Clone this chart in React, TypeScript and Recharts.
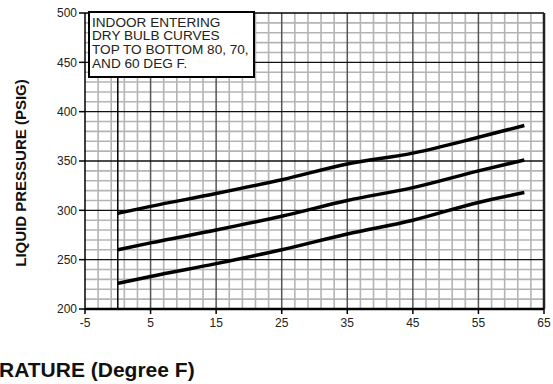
import React from 'react';
import { LineChart, Line, XAxis, YAxis, ReferenceLine } from 'recharts';

const temps = [0, 5, 15, 25, 35, 45, 55, 62];
const db80 = [297, 304, 317, 331, 347, 358, 374, 386];
const db70 = [260, 267, 280, 294, 310, 323, 340, 351];
const db60 = [226, 233, 246, 260, 276, 290, 308, 318];

const xTicks = [-5, 5, 15, 25, 35, 45, 55, 65];
const yTicks = [200, 250, 300, 350, 400, 450, 500];

const xMinor = [-3, -1, 1, 3, 7, 9, 11, 13, 17, 19, 21, 23, 27, 29, 31, 33, 37, 39, 41, 43, 47, 49, 51, 53, 57, 59, 61, 63];
const xMajor = [5, 15, 25, 35, 45, 55];
const xZero = [0];
const yMinor = [210, 220, 230, 240, 260, 270, 280, 290, 310, 320, 330, 340, 360, 370, 380, 390, 410, 420, 430, 440, 460, 470, 480, 490];
const yMajor = [250, 300, 350, 400, 450];

const legendLines = ['INDOOR ENTERING', 'DRY BULB CURVES', 'TOP TO BOTTOM 80, 70,', 'AND 60 DEG F.'];

const data = temps.map((t, i) => ({ t, a: db80[i], b: db70[i], c: db60[i] }));

const FONT = '"Liberation Sans", Arial, sans-serif';

export default function App() {
  return (
    <div style={{ position: 'absolute', left: 0, top: 0, width: 553, height: 384, background: '#fff', fontFamily: FONT }}>
      <LineChart width={553} height={384} data={data} margin={{ top: 13, right: 9, left: 0, bottom: 45 }}>
        <XAxis
          dataKey="t"
          type="number"
          domain={[-5, 65]}
          ticks={xTicks}
          allowDataOverflow
          height={30}
          tickSize={5}
          tickMargin={4}
          axisLine={{ stroke: '#000', strokeWidth: 2.5 }}
          tickLine={{ stroke: '#000', strokeWidth: 1.5 }}
          tick={{ fill: '#222', fontSize: 12, fontFamily: FONT }}
        />
        <YAxis
          type="number"
          domain={[200, 500]}
          ticks={yTicks}
          allowDataOverflow
          width={85}
          tickSize={6}
          tickMargin={2}
          axisLine={{ stroke: '#000', strokeWidth: 1.5 }}
          tickLine={{ stroke: '#000', strokeWidth: 1.5 }}
          tick={{ fill: '#222', fontSize: 12, fontFamily: FONT }}
        />
        {xMinor.map((v) => (
          <ReferenceLine key={'xm' + v} x={v} stroke="#b4b4b4" strokeWidth={1.6} />
        ))}
        {yMinor.map((v) => (
          <ReferenceLine key={'ym' + v} y={v} stroke="#b4b4b4" strokeWidth={1.6} />
        ))}
        {xMajor.map((v) => (
          <ReferenceLine key={'xM' + v} x={v} stroke="#555" strokeWidth={1.5} />
        ))}
        {yMajor.map((v) => (
          <ReferenceLine key={'yM' + v} y={v} stroke="#111" strokeWidth={1.3} />
        ))}
        {xZero.map((v) => (
          <ReferenceLine key={'x0' + v} x={v} stroke="#000" strokeWidth={1.5} />
        ))}
        <ReferenceLine y={500} stroke="#000" strokeWidth={1.5} />
        <ReferenceLine x={65} stroke="#222" strokeWidth={2.5} />
        <Line type="monotone" dataKey="a" stroke="#000" strokeWidth={3.5} dot={false} isAnimationActive={false} />
        <Line type="monotone" dataKey="b" stroke="#000" strokeWidth={3.5} dot={false} isAnimationActive={false} />
        <Line type="monotone" dataKey="c" stroke="#000" strokeWidth={3.5} dot={false} isAnimationActive={false} />
      </LineChart>
      <svg width={553} height={384} style={{ position: 'absolute', left: 0, top: 0, pointerEvents: 'none' }}>
        <rect x={89} y={12} width={165} height={65} fill="#fff" stroke="#000" strokeWidth={2} />
        {legendLines.map((s, i) => (
          <text key={s} x={92} y={26.5 + i * 13.8} fontSize={13.6} fontFamily={FONT} fill="#222">
            {s}
          </text>
        ))}
        <text
          x={20}
          y={173}
          transform="rotate(-90 20 173)"
          textAnchor="middle"
          dominantBaseline="central"
          fontSize={15}
          fontWeight="bold"
          fontFamily={FONT}
          fill="#111"
        >
          LIQUID PRESSURE (PSIG)
        </text>
        <text x={-1} y={377} fontSize={21} fontWeight="bold" fontFamily={FONT} fill="#111">
          RATURE (Degree F)
        </text>
      </svg>
    </div>
  );
}
